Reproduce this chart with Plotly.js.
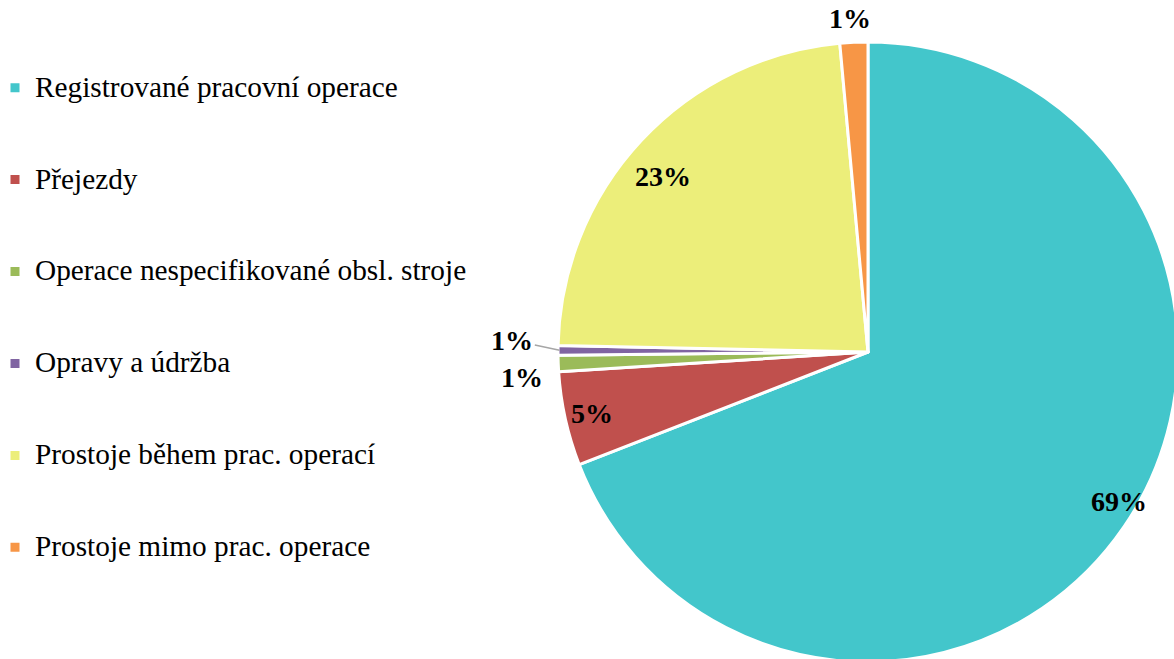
<!DOCTYPE html>
<html>
<head>
<meta charset="utf-8">
<script src="https://cdn.plot.ly/plotly-3.0.1.min.js"></script>
<style>html,body{margin:0;padding:0;overflow:hidden;background:#fff;}</style>
</head>
<body>
<div id="chart" style="width:1178px;height:662px;"></div>
<script>
const categories = [
  "Registrované pracovní operace",
  "Přejezdy",
  "Operace nespecifikované obsl. stroje",
  "Opravy a údržba",
  "Prostoje během prac. operací",
  "Prostoje mimo prac. operace"
];
const values = [69.05, 4.9, 0.85, 0.5, 23.2, 1.45];
const colors = ["#43C6CB", "#C0504D", "#9BBB59", "#8064A2", "#ECEE7A", "#F79646"];
// label placement style per slice: fraction of radius and angular nudge (deg)
const labelRadius = [0.943, 0.913, 1.12, 1.148, 0.87, 1.079];
const labelNudge = [-3.6, 0, -2.1, 1.6, -2.5, -0.5];
const leaderLine = [false, false, false, true, false, false];

const FONT = "Liberation Serif";
const W = 1178, H = 662;
const dom = {x: [558 / W, 1], y: [0, 620 / H]};

const trace = {
  type: "pie",
  labels: categories.map(c => " <br><span style='font-size:29.3px'>" + c + "</span><br> "),
  values: values,
  sort: false,
  direction: "clockwise",
  rotation: 0,
  marker: {colors: colors, line: {color: "#ffffff", width: 3}},
  textinfo: "none",
  hoverinfo: "none",
  domain: dom
};

// percentage labels positioned from the data (mid-angle of each slice)
const total = values.reduce((a, b) => a + b, 0);
const cx = (dom.x[0] + dom.x[1]) / 2 * W;
const cy = H - (dom.y[0] + dom.y[1]) / 2 * H;
const R = Math.min((dom.x[1] - dom.x[0]) * W, (dom.y[1] - dom.y[0]) * H) / 2;
const annotations = [];
let cum = 0;
values.forEach((v, i) => {
  const midRaw = (cum + v / 2) / total * 2 * Math.PI;
  cum += v;
  const mid = midRaw + labelNudge[i] * Math.PI / 180;
  const txt = Math.round(v / total * 100) + "%";
  const f = labelRadius[i];
  const lx = cx + Math.sin(mid) * R * f;
  const ly = cy - Math.cos(mid) * R * f;
  const font = {family: FONT, size: 28, color: "#000000", weight: "bold"};
  if (leaderLine[i]) {
    const tx = cx + Math.sin(midRaw) * R * 0.995;
    const ty = cy - Math.cos(midRaw) * R * 0.995;
    annotations.push({
      xref: "paper", yref: "paper",
      x: tx / W, y: 1 - ty / H,
      ax: lx - tx, ay: ly - ty,
      text: txt, showarrow: true, arrowhead: 0, arrowwidth: 1.5,
      arrowcolor: "#A6A6A6", standoff: 0, font: font
    });
  } else {
    annotations.push({
      xref: "paper", yref: "paper",
      x: lx / W, y: 1 - ly / H,
      xanchor: "center", yanchor: "middle",
      text: txt, showarrow: false, font: font
    });
  }
});

const layout = {
  width: W,
  height: H,
  margin: {l: 0, r: 0, t: 0, b: 0, autoexpand: false},
  paper_bgcolor: "#ffffff",
  font: {family: FONT},
  showlegend: true,
  legend: {
    x: -5 / W, y: 0.9445, xanchor: "left", yanchor: "top",
    font: {family: FONT, size: 22.8, color: "#000000"},
    bgcolor: "rgba(0,0,0,0)"
  },
  annotations: annotations
};

Plotly.newPlot("chart", [trace], layout, {displayModeBar: false, staticPlot: true});
</script>
</body>
</html>
